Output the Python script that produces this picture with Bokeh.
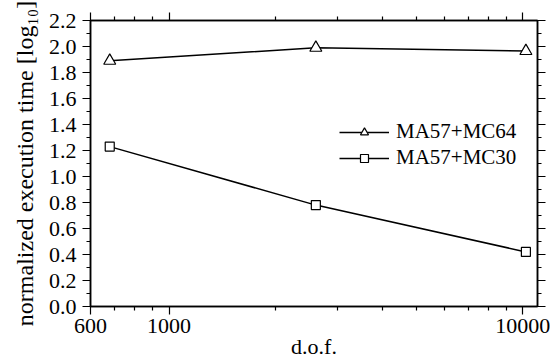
from bokeh.plotting import figure
from bokeh.models import (LogAxis, LinearAxis, FixedTicker, SingleIntervalTicker,
                          PrintfTickFormatter, CustomJSTickFormatter, Range1d,
                          Legend, LegendItem)
from bokeh.embed import file_html
from bokeh.resources import INLINE

dof = [680, 2600, 10200]
mc64 = [1.89, 1.99, 1.965]
mc30 = [1.23, 0.78, 0.42]
x_major = [600, 1000, 10000]
x_minor = [700, 800, 900, 2000, 3000, 4000, 5000, 6000, 7000, 8000, 9000]
labels = ["MA57+MC64", "MA57+MC30"]

FONT = "Liberation Serif"

p = figure(width=550, height=361, x_axis_type="log",
           x_range=Range1d(600, 11000), y_range=Range1d(0, 2.2),
           output_backend="svg", toolbar_location=None,
           min_border_left=90, min_border_right=13, min_border_top=20,
           min_border_bottom=40)
p.xgrid.visible = False
p.ygrid.visible = False
p.outline_line_color = "black"
p.outline_line_width = 1.5

xt = FixedTicker(ticks=x_major, minor_ticks=x_minor)
yt = SingleIntervalTicker(interval=0.2, num_minor_ticks=2)


def style(ax):
    ax.axis_line_color = "black"
    ax.axis_line_width = 1.5
    ax.major_tick_line_color = "black"
    ax.minor_tick_line_color = "black"
    ax.major_tick_line_width = 1.2
    ax.minor_tick_line_width = 1.2
    ax.major_tick_in = 0
    ax.minor_tick_in = 0
    ax.major_tick_out = 8
    ax.minor_tick_out = 4
    ax.major_label_text_font = FONT
    ax.major_label_text_color = "black"
    ax.major_label_text_font_size = "22px"
    ax.axis_label_text_color = "black"


xa = p.xaxis[0]
xa.ticker = xt
xa.formatter = PrintfTickFormatter(format="%d")
style(xa)
xa.major_label_standoff = 4
xa.axis_label = "d.o.f."
xa.axis_label_text_font = FONT
xa.axis_label_text_font_style = "normal"
xa.axis_label_text_font_size = "22px"
xa.axis_label_standoff = -2

ya = p.yaxis[0]
ya.ticker = yt
ya.formatter = PrintfTickFormatter(format="%.1f")
style(ya)
ya.major_label_standoff = 6
ya.axis_label = "normalized execution time [log\u2081\u2080]"
ya.axis_label_text_font = FONT
ya.axis_label_text_font_style = "normal"
ya.axis_label_text_font_size = "24px"
ya.axis_label_standoff = 8

blank = CustomJSTickFormatter(code="return '';")
top = LogAxis(ticker=xt, formatter=blank)
style(top)
top.major_label_standoff = 0
p.add_layout(top, "above")
right = LinearAxis(ticker=yt, formatter=blank)
style(right)
right.major_label_standoff = 0
p.add_layout(right, "right")

l1 = p.line(dof, mc64, line_color="black", line_width=1.5)
s1 = p.scatter(dof, mc64, marker="triangle", size=12, fill_color="white",
               line_color="black", line_width=1.2)
l2 = p.line(dof, mc30, line_color="black", line_width=1.5)
s2 = p.scatter(dof, mc30, marker="square", size=9, fill_color="white",
               line_color="black", line_width=1.2)

legend = Legend(items=[LegendItem(label=labels[0], renderers=[l1, s1]),
                       LegendItem(label=labels[1], renderers=[l2, s2])],
                location=(249, 136))
legend.border_line_color = None
legend.background_fill_alpha = 0
legend.label_text_font = FONT
legend.label_text_color = "black"
legend.label_text_font_size = "21px"
legend.glyph_width = 50
legend.glyph_height = 20
legend.label_standoff = 7
legend.padding = 0
legend.margin = 0
legend.spacing = 1
p.add_layout(legend)

open("out.html", "w").write(file_html(p, INLINE))
